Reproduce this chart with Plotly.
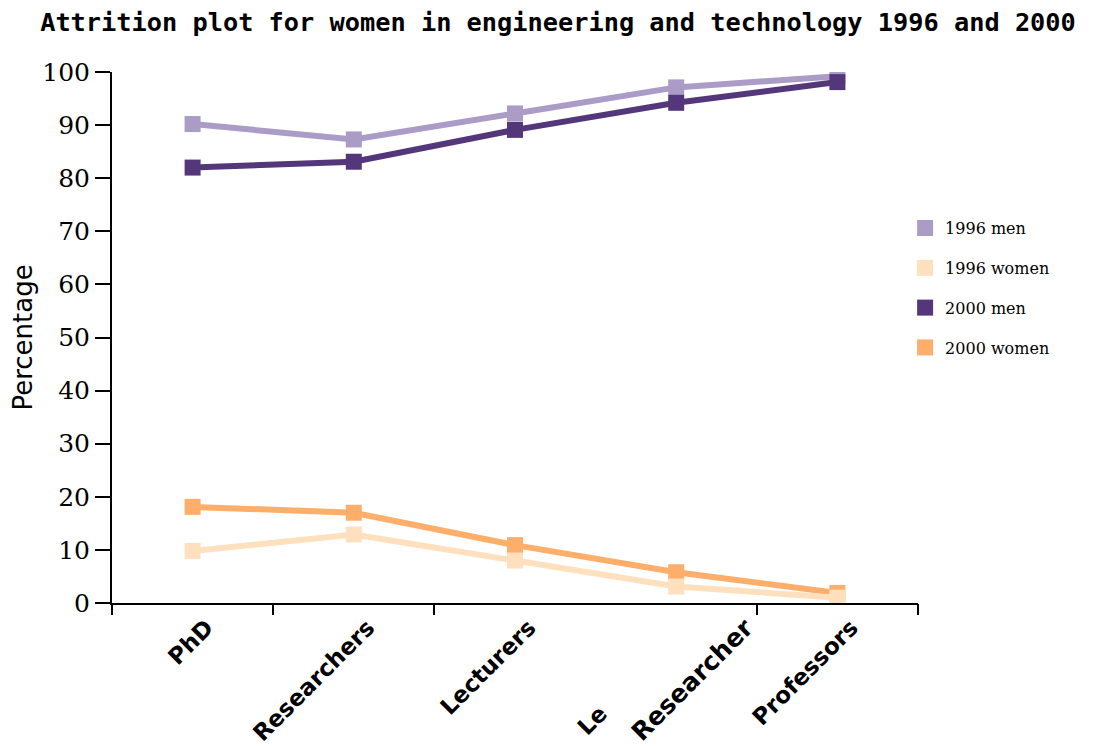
import plotly.graph_objects as go

# categories along the career path (4th label appears clipped in the source)
stages = [0, 1, 2, 3, 4]
stage_labels = ["PhD", "Researchers", "Lecturers", "", "Professors"]
clipped_label = "Researcher"
clipped_prefix = "Le"

men_1996 = [90.2, 87.3, 92.2, 97.1, 99.2]
women_1996 = [9.8, 12.9, 8.0, 3.1, 1.0]
men_2000 = [82.0, 83.1, 89.1, 94.2, 98.1]
women_2000 = [18.1, 17.0, 10.9, 5.8, 1.9]

series = [
    ("1996 men", men_1996, "#ab9bc7"),
    ("2000 men", men_2000, "#54377a"),
    ("2000 women", women_2000, "#fdae6a"),
    ("1996 women", women_1996, "#fee0bf"),
]
legend_order = ["1996 men", "1996 women", "2000 men", "2000 women"]

fig = go.Figure()

# Lines with square markers
for name, values, color in series:
    fig.add_trace(
        go.Scatter(
            x=stages,
            y=values,
            mode="lines+markers",
            line=dict(color=color, width=6),
            marker=dict(color=color, symbol="square", size=16),
            name=name,
            showlegend=False,
        )
    )

# Legend shows only squares
colors = {name: color for name, _, color in series}
for name in legend_order:
    fig.add_trace(
        go.Scatter(
            x=[None],
            y=[None],
            mode="markers",
            marker=dict(color=colors[name], symbol="square", size=17),
            name=name,
            legendgroup=name,
        )
    )

label_font = dict(family="DejaVu Sans", size=23, color="black")

# the overlapped 4th label, as it appears in the source
fig.add_annotation(
    x=3.1, y=0, xref="x", yref="y", text=f"<b>{clipped_label}</b>",
    showarrow=False, textangle=-45, xanchor="center", yanchor="middle",
    yshift=-76, font=dict(family="DejaVu Sans", size=25, color="black"),
)
fig.add_annotation(
    x=2.48, y=0, xref="x", yref="y", text=f"<b>{clipped_prefix}</b>",
    showarrow=False, textangle=-45, xanchor="center", yanchor="middle",
    yshift=-117, font=label_font,
)

fig.update_layout(
    title=dict(
        text="<b>Attrition plot for women in engineering and technology 1996 and 2000</b>",
        x=0.029,
        xanchor="left",
        y=0.981,
        yanchor="middle",
        xref="container",
        yref="container",
        font=dict(family="DejaVu Sans Mono", size=25.3, color="black"),
    ),
    width=1109,
    height=748,
    margin=dict(l=104, r=199, t=64, b=153),
    plot_bgcolor="white",
    paper_bgcolor="white",
    showlegend=True,
    legend=dict(
        x=0.984,
        y=0.738,
        xanchor="left",
        yanchor="top",
        tracegroupgap=16,
        font=dict(family="DejaVu Serif", size=16, color="black"),
    ),
    xaxis=dict(
        range=[-0.5, 4.5],
        tickvals=stages,
        ticktext=[f"<b>{t}</b>" if t else "" for t in stage_labels],
        tickangle=-45,
        ticks="",
        ticklabelshift=14,
        showgrid=False,
        showline=True,
        linecolor="black",
        linewidth=2,
        tickfont=label_font,
        zeroline=False,
        automargin=False,
    ),
    yaxis=dict(
        title=dict(text="Percentage", font=dict(family="DejaVu Sans", size=26, color="black"), standoff=12),
        range=[0, 100],
        tickvals=[0, 10, 20, 30, 40, 50, 60, 70, 80, 90, 100],
        ticks="outside",
        ticklen=15,
        tickwidth=2,
        tickcolor="black",
        showgrid=False,
        showline=True,
        linecolor="black",
        linewidth=2,
        tickfont=dict(family="DejaVu Serif", size=25, color="black"),
        zeroline=False,
        automargin=False,
    ),
    # category boundary ticks on the x axis
    xaxis2=dict(
        overlaying="x",
        range=[-0.5, 4.5],
        tickvals=[-0.5, 0.5, 1.5, 3.5, 4.5],
        ticktext=[""] * 5,
        ticks="outside",
        ticklen=11,
        tickwidth=2,
        tickcolor="black",
        showgrid=False,
        showline=False,
        side="bottom",
        anchor="y",
        automargin=False,
    ),
)
fig.add_trace(go.Scatter(x=[None], y=[None], xaxis="x2", showlegend=False))

fig.write_html("out.html")
